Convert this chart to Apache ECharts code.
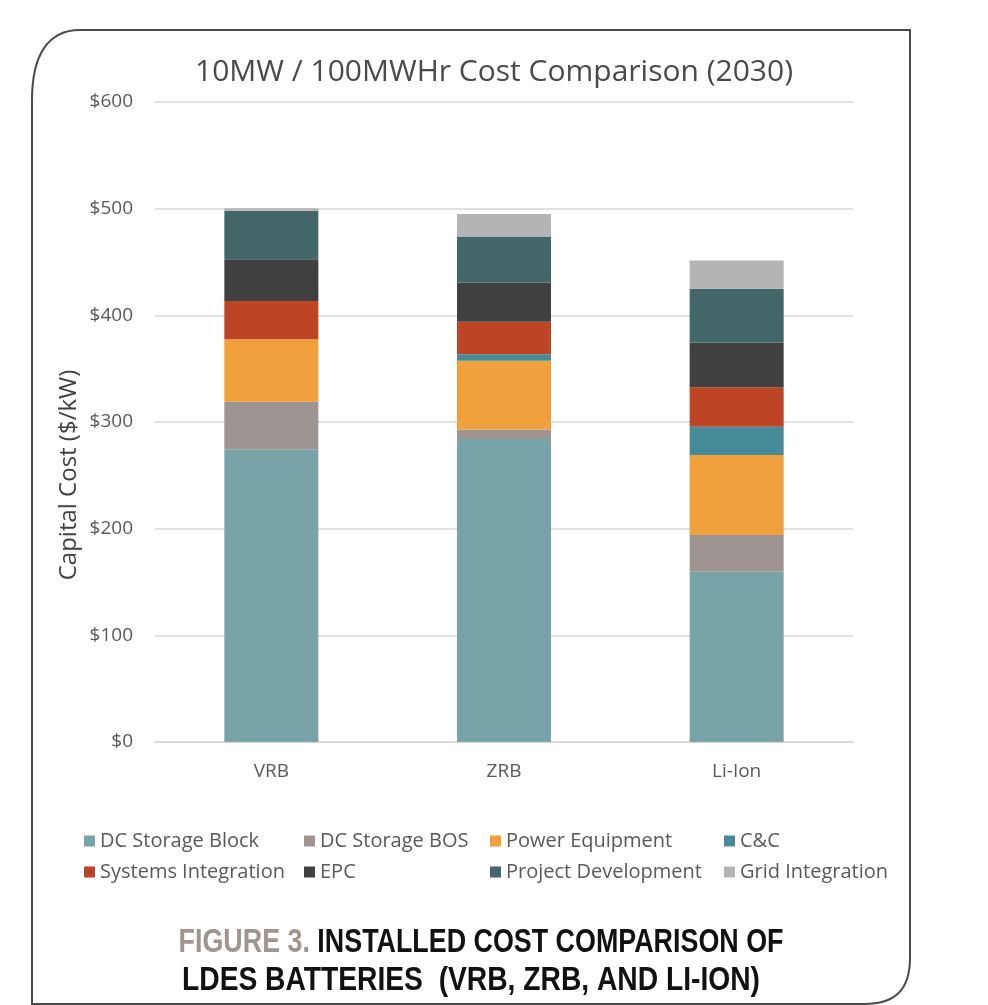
<!DOCTYPE html>
<html>
<head>
<meta charset="utf-8">
<script src="https://cdn.jsdelivr.net/npm/echarts@6/dist/echarts.min.js"></script>
<style>
html,body{margin:0;padding:0;background:#fff;}
#chart{width:988px;height:1005px;}
</style>
</head>
<body>
<div id="chart"></div>
<script>
const categories = ['VRB', 'ZRB', 'Li-Ion'];
const seriesNames = ['DC Storage Block', 'DC Storage BOS', 'Power Equipment', 'C&C',
  'Systems Integration', 'EPC', 'Project Development', 'Grid Integration'];
const dcStorageBlock     = [274.5, 284, 159.5];
const dcStorageBOS       = [44.5, 9, 34.5];
const powerEquipment     = [58.5, 64.5, 75];
const cAndC              = [0, 6, 26.5];
const systemsIntegration = [36, 30.5, 37];
const epc                = [39, 36.5, 42];
const projectDevelopment = [45.5, 43.5, 50.5];
const gridIntegration    = [2.5, 21, 26.5];
const yTicks = [0, 100, 200, 300, 400, 500, 600];

const colors = ['#78a4a9', '#9e9492', '#f0a03c', '#468b99', '#bd4526', '#404040', '#436769', '#b4b4b4'];
const values = [dcStorageBlock, dcStorageBOS, powerEquipment, cAndC, systemsIntegration, epc, projectDevelopment, gridIntegration];

const chart = echarts.init(document.getElementById('chart'));
const font = 'Open Sans';

const legendCols = [
  {left: 79, data: [seriesNames[0], seriesNames[4]]},
  {left: 299, data: [seriesNames[1], seriesNames[5]]},
  {left: 485, data: [seriesNames[2], seriesNames[6]]},
  {left: 719, data: [seriesNames[3], seriesNames[7]]}
];

const frameStyle = {fill: 'none', stroke: '#4a4a4a', lineWidth: 2};
const capFont = 'Liberation Sans';

chart.setOption({
  animation: false,
  color: colors,
  title: {
    text: '10MW / 100MWHr Cost Comparison (2030)',
    left: 'center',
    top: 52,
    textStyle: {fontFamily: font, fontSize: 30, fontWeight: 'normal', color: '#4a4a4a'}
  },
  legend: legendCols.map(c => ({
    orient: 'vertical',
    left: c.left,
    top: 826,
    itemWidth: 11,
    itemHeight: 11,
    itemGap: 11,
    icon: 'rect',
    selectedMode: false,
    textStyle: {fontFamily: font, fontSize: 20, color: '#595959'},
    data: c.data
  })),
  grid: {left: 155, right: 135, top: 102, bottom: 263, containLabel: false},
  xAxis: {
    type: 'category',
    data: categories,
    axisLine: {lineStyle: {color: '#d9d9d9', width: 1.5}},
    axisTick: {show: false},
    axisLabel: {fontFamily: font, fontSize: 19, color: '#595959', margin: 20}
  },
  yAxis: {
    type: 'value',
    min: yTicks[0],
    max: yTicks[yTicks.length - 1],
    interval: 100,
    axisLine: {show: false},
    axisTick: {show: false},
    splitLine: {lineStyle: {color: '#d9d9d9', width: 1.5}},
    axisLabel: {fontFamily: font, fontSize: 19, color: '#595959', margin: 22,
      formatter: v => '$' + v}
  },
  series: seriesNames.map((n, i) => ({
    name: n,
    type: 'bar',
    stack: 'total',
    barWidth: 94,
    data: values[i],
    itemStyle: {color: colors[i]}
  })),
  graphic: [
    {type: 'polyline', shape: {points: [[80, 30], [910, 30], [910, 958]]}, style: frameStyle},
    {type: 'bezierCurve', shape: {x1: 910, y1: 958, cpx1: 910, cpy1: 990, cpx2: 895, cpy2: 1004, x2: 864, y2: 1004}, style: frameStyle},
    {type: 'polyline', shape: {points: [[864, 1004], [32, 1004], [32, 100]]}, style: frameStyle},
    {type: 'bezierCurve', shape: {x1: 32, y1: 100, cpx1: 32, cpy1: 55, cpx2: 48, cpy2: 30, x2: 80, y2: 30}, style: frameStyle},
    {
      type: 'text',
      x: 69, y: 475,
      rotation: Math.PI / 2,
      style: {text: 'Capital Cost ($/kW)', fontFamily: font, fontSize: 24, fill: '#404040',
        align: 'center', verticalAlign: 'middle'}
    },
    {
      type: 'text',
      x: 481, y: 943,
      scaleX: 0.79,
      style: {
        text: '{g|FIGURE 3. }{b|INSTALLED COST COMPARISON OF}',
        align: 'center', verticalAlign: 'middle',
        rich: {
          g: {fontFamily: capFont, fontWeight: 'bold', fontSize: 34, fill: '#9e9490'},
          b: {fontFamily: capFont, fontWeight: 'bold', fontSize: 34, fill: '#111111'}
        }
      }
    },
    {
      type: 'text',
      x: 471, y: 981,
      scaleX: 0.83,
      style: {
        text: 'LDES BATTERIES  (VRB, ZRB, AND LI-ION)',
        align: 'center', verticalAlign: 'middle',
        fontFamily: capFont, fontWeight: 'bold', fontSize: 34, fill: '#111111'
      }
    }
  ]
});
</script>
</body>
</html>
